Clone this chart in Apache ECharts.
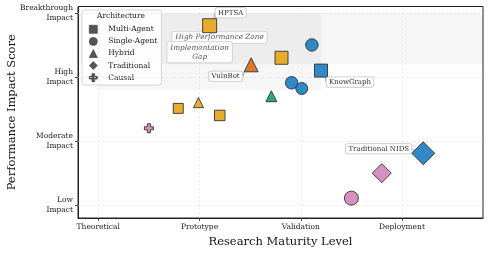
<!DOCTYPE html>
<html><head><meta charset="utf-8">
<script src="https://cdn.jsdelivr.net/npm/echarts@6/dist/echarts.min.js"></script>
<style>html,body{margin:0;padding:0;background:#fff}#c{width:489px;height:254px}</style>
</head><body><div id="c"></div>
<script>
// ---------- data ----------
const maturityLabels = ['Theoretical', 'Prototype', 'Validation', 'Deployment'];
const impactLabels = ['Low\nImpact', 'Moderate\nImpact', 'High\nImpact', 'Breakthrough\nImpact'];
const architectures = ['Multi-Agent', 'Single-Agent', 'Hybrid', 'Traditional', 'Causal'];

const systemNames = ['HPTSA', '', '', 'VulnBot', 'KnowGraph', '', '', '', '', '', '', '', 'Traditional NIDS', '', ''];
const maturity    = [2.10, 2.81, 3.11, 2.51, 3.20, 2.91, 3.01, 2.71, 1.99, 1.79, 2.20, 1.50, 4.21, 3.80, 3.50];
const impact      = [3.80, 3.30, 3.50, 3.19, 3.10, 2.91, 2.82, 2.70, 2.60, 2.51, 2.40, 2.20, 1.81, 1.50, 1.11];
const archOf      = ['Multi-Agent', 'Multi-Agent', 'Single-Agent', 'Hybrid', 'Multi-Agent', 'Single-Agent', 'Single-Agent',
                     'Hybrid', 'Hybrid', 'Multi-Agent', 'Multi-Agent', 'Causal', 'Traditional', 'Traditional', 'Single-Agent'];
const groupOf     = ['gold', 'gold', 'blue', 'orange', 'blue', 'blue', 'blue', 'green', 'gold', 'gold', 'gold', 'pink', 'blue', 'pink', 'pink'];

// zones: [xMin, xMax, yMin, yMax]
const zoneHighPerf = [0.8, 4.8, 3.2, 4.0];
const zoneGap      = [1.0, 3.2, 2.8, 4.0];

// ---------- styles ----------
const palette = { gold: '#E8A922', blue: '#2683C4', orange: '#D8701C', green: '#26A07A', pink: '#D48BBE' };
const markerSize = [14, 13, 12.5, 14, 13, 12.5, 12, 11, 10, 10, 10.5, 9, 23, 19, 14];
const plusPath = 'path://M3.3,0H6.7V3.3H10V6.7H6.7V10H3.3V6.7H0V3.3H3.3Z';
const archSymbol = { 'Multi-Agent': 'rect', 'Single-Agent': 'circle', 'Hybrid': 'triangle', 'Traditional': 'diamond', 'Causal': plusPath };
const annotOffset = { 'HPTSA': [21, -13], 'VulnBot': [-25.5, 11.5], 'KnowGraph': [29, 11.5], 'Traditional NIDS': [-44.5, -4.5] };
const FONT = 'DejaVu Serif';

const chart = echarts.init(document.getElementById('c'), null, { renderer: 'canvas' });

const scatterSeries = architectures.map(a => {
  const data = [];
  maturity.forEach((x, i) => {
    if (archOf[i] !== a) return;
    const item = {
      name: systemNames[i],
      value: [x, impact[i]],
      symbolSize: markerSize[i],
      itemStyle: { color: palette[groupOf[i]] }
    };
    if (systemNames[i]) item.label = { show: true };
    data.push(item);
  });
  return {
    name: a, type: 'scatter', z: 5,
    symbol: archSymbol[a],
    itemStyle: { borderColor: '#2a2a2a', borderWidth: 0.9, opacity: 0.95 },
    label: {
      show: false, position: 'inside', formatter: p => p.name,
      fontFamily: FONT, fontSize: 7, color: '#222',
      backgroundColor: '#fff', borderColor: '#c4c4c4', borderWidth: 0.8, borderRadius: 2,
      padding: [1.5, 2.5, 1, 2.5]
    },
    labelLayout: p => {
      const o = annotOffset[p.text];
      return o ? { dx: o[0], dy: o[1] } : {};
    },
    labelLine: { show: true, lineStyle: { color: '#8a8a8a', width: 0.8 } },
    emphasis: { disabled: true },
    data
  };
});

const gridLines = [1, 2, 3, 4].map(v => ({ xAxis: v })).concat([1, 2, 3, 4].map(v => ({ yAxis: v })));

const zoneSeries = {
  name: 'zones', type: 'scatter', data: [], z: 1, silent: true,
  markArea: {
    silent: true,
    itemStyle: { color: 'rgba(128,128,128,0.07)' },
    label: {
      position: 'inside', fontFamily: FONT, fontStyle: 'italic', fontSize: 7.3, color: '#555',
      backgroundColor: 'rgba(255,255,255,0.85)', borderColor: '#d0d0d0', borderWidth: 0.8, borderRadius: 2,
      padding: [1.5, 3, 1, 3], lineHeight: 9
    },
    data: [
      [{ name: 'High Performance Zone', coord: [zoneHighPerf[0], zoneHighPerf[3]], label: { offset: [-61, -1] } },
       { coord: [zoneHighPerf[1], zoneHighPerf[2]] }],
      [{ name: 'Implementation\nGap', coord: [zoneGap[0], zoneGap[3]], label: { offset: [-10, 1] } },
       { coord: [zoneGap[1], zoneGap[2]] }]
    ]
  },
  markLine: {
    silent: true, symbol: 'none', label: { show: false },
    lineStyle: { color: '#e2e2e2', type: [2, 2], width: 0.7 },
    data: gridLines
  }
};

const legendIcons = { 'Multi-Agent': 'rect', 'Single-Agent': 'circle', 'Hybrid': 'triangle', 'Traditional': 'diamond', 'Causal': plusPath };

chart.setOption({
  animation: false,
  backgroundColor: '#fff',
  title: {
    text: 'Architecture', left: 97, top: 12.5, padding: 0,
    textStyle: { fontFamily: FONT, fontSize: 7.5, fontWeight: 'normal', color: '#222' }
  },
  legend: {
    orient: 'vertical', left: 82, top: 10,
    padding: [15, 4, 3, 7],
    itemWidth: 8, itemHeight: 8, itemGap: 3.5,
    borderColor: '#cccccc', borderWidth: 0.8, borderRadius: 2,
    backgroundColor: 'rgba(255,255,255,0.92)',
    textStyle: { fontFamily: FONT, fontSize: 7.5, color: '#222', lineHeight: 8, padding: [0, 0, 0, 6] },
    data: architectures.map(a => ({
      name: a, icon: legendIcons[a],
      itemStyle: { color: '#555', borderColor: '#333', borderWidth: 0.6, opacity: 1 }
    })),
    selectedMode: false
  },
  grid: {
    left: 78, right: 6, top: 6.5, bottom: 36, show: true, borderColor: '#222', borderWidth: 1,
    backgroundColor: 'transparent', containLabel: false, outerBoundsMode: 'none'
  },
  xAxis: {
    type: 'value', min: 0.8, max: 4.8,
    name: 'Research Maturity Level', nameLocation: 'middle', nameGap: 18, nameMoveOverlap: false,
    nameTextStyle: { fontFamily: FONT, fontSize: 11.5, color: '#111' },
    axisLine: { show: true, lineStyle: { color: '#222', width: 1 } },
    axisTick: { show: true, customValues: [1, 2, 3, 4], length: 3, lineStyle: { color: '#222', width: 0.8 } },
    axisLabel: {
      customValues: [1, 2, 3, 4], formatter: v => maturityLabels[Math.round(v) - 1] || '',
      fontFamily: FONT, fontSize: 7.5, color: '#222', margin: 5
    },
    splitLine: { show: false }
  },
  yAxis: {
    type: 'value', min: 0.8, max: 4.1,
    name: 'Performance Impact Score', nameLocation: 'middle', nameGap: 60, nameRotate: 90, nameMoveOverlap: false,
    nameTextStyle: { fontFamily: FONT, fontSize: 11.5, color: '#111' },
    axisLine: { show: true, lineStyle: { color: '#222', width: 1 } },
    axisTick: { show: true, customValues: [1, 2, 3, 4], length: 3, lineStyle: { color: '#222', width: 0.8 } },
    axisLabel: {
      customValues: [1, 2, 3, 4], formatter: v => impactLabels[Math.round(v) - 1] || '',
      fontFamily: FONT, fontSize: 7.5, color: '#222', margin: 5, lineHeight: 10, align: 'right'
    },
    splitLine: { show: false }
  },
  series: [zoneSeries].concat(scatterSeries)
});
</script>
</body></html>
